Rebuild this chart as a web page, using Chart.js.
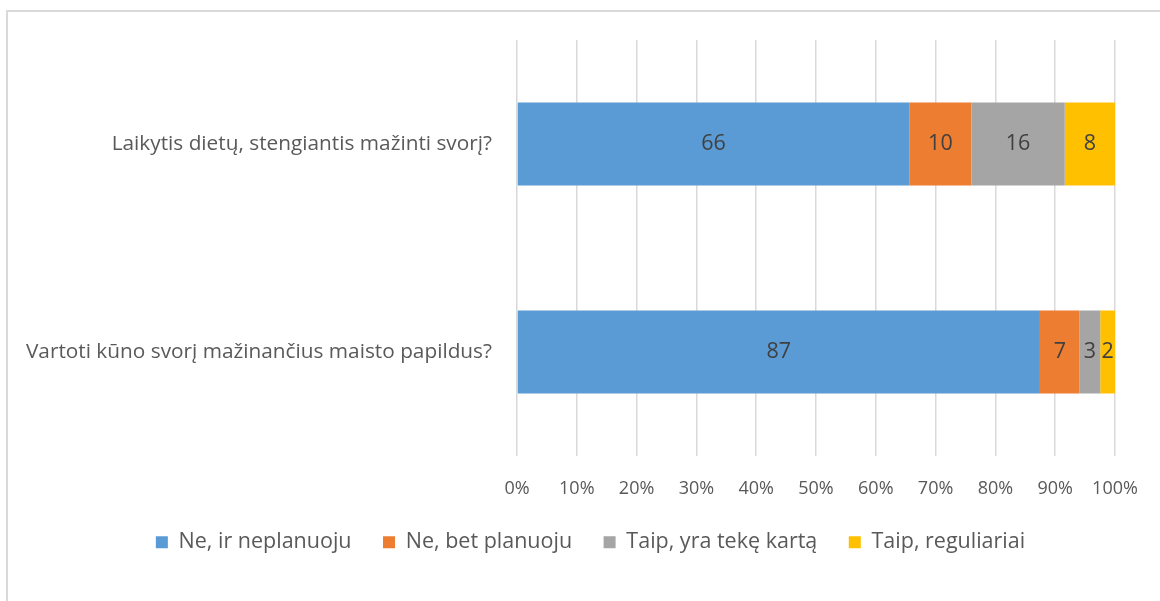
<!DOCTYPE html>
<html>
<head>
<meta charset="utf-8">
<script src="https://cdn.jsdelivr.net/npm/chart.js@4"></script>
<style>
  body { margin: 0; background: #fff; }
  #frame {
    position: absolute; left: 6px; top: 10px; width: 1200px; height: 700px;
    border-top: 2px solid #dadada; border-left: 2px solid #dadada;
  }
  #chart { position: absolute; left: 0; top: 0; }
</style>
</head>
<body>
<div id="frame"></div>
<canvas id="chart" width="1160" height="601"></canvas>
<script>
var questions = ['Laikytis dietų, stengiantis mažinti svorį?', 'Vartoti kūno svorį mažinančius maisto papildus?'];
var seriesNames = ['Ne, ir neplanuoju', 'Ne, bet planuoju', 'Taip, yra tekę kartą', 'Taip, reguliariai'];
var neNeplanuoju = [65.6, 87.45];
var neBetPlanuoju = [10.4, 6.63];
var taipKarta = [15.6, 3.45];
var taipReguliariai = [8.4, 2.47];
var xTicks = [0, 10, 20, 30, 40, 50, 60, 70, 80, 90, 100];

var myColors = ['#5b9bd5', '#ed7d31', '#a5a5a5', '#ffc000'];
var fontName = '"Open Sans", Lato, sans-serif';

// value labels in the middle of each segment
var barLabels = {
    id: 'barLabels',
    afterDatasetsDraw: function(chart) {
        var ctx = chart.ctx;
        ctx.save();
        ctx.font = '21.5px ' + fontName;
        ctx.fillStyle = '#404040';
        ctx.textAlign = 'center';
        ctx.textBaseline = 'middle';
        chart.data.datasets.forEach(function(ds, i) {
            chart.getDatasetMeta(i).data.forEach(function(bar, j) {
                var c = bar.getCenterPoint();
                ctx.fillText(Math.round(ds.data[j]), c.x, c.y);
            });
        });
        ctx.restore();
    }
};

// nudge the legend so it sits centred like the original
var legendShift = {
    id: 'legendShift',
    afterLayout: function(chart) {
        chart.legend.left += 28;
        chart.legend.right += 28;
    }
};

var allSeries = [neNeplanuoju, neBetPlanuoju, taipKarta, taipReguliariai];

var ctx = document.getElementById('chart').getContext('2d');
var myChart = new Chart(ctx, {
    type: 'bar',
    data: {
        labels: questions,
        datasets: allSeries.map(function(vals, i) {
            return {
                label: seriesNames[i],
                data: vals,
                backgroundColor: myColors[i],
                borderWidth: 0,
                barPercentage: 0.4,
                categoryPercentage: 1
            };
        })
    },
    options: {
        indexAxis: 'y',
        responsive: false,
        animation: false,
        devicePixelRatio: 1,
        layout: { padding: { left: 10, right: 45, top: 40, bottom: 38 } },
        plugins: {
            tooltip: { enabled: false },
            legend: {
                position: 'bottom',
                labels: {
                    boxWidth: 12,
                    boxHeight: 12,
                    padding: 31.5,
                    color: '#595959',
                    font: { family: fontName, size: 21.5 }
                }
            }
        },
        scales: {
            x: {
                stacked: true,
                min: 0,
                max: 100,
                afterBuildTicks: function(axis) {
                    axis.ticks = xTicks.map(function(v) { return { value: v }; });
                },
                afterFit: function(axis) { axis.height = 44; },
                grid: { color: '#d9d9d9', lineWidth: 1.5, drawTicks: false },
                border: { display: false },
                ticks: {
                    padding: 22,
                    color: '#595959',
                    font: { family: fontName, size: 18 },
                    callback: function(v) { return v + '%'; }
                }
            },
            y: {
                stacked: true,
                afterFit: function(axis) { axis.width = 507; },
                grid: { display: false },
                border: { display: false },
                ticks: {
                    padding: 17,
                    color: '#595959',
                    font: { family: fontName, size: 20.8 }
                }
            }
        }
    },
    plugins: [barLabels, legendShift]
});
</script>
</body>
</html>
